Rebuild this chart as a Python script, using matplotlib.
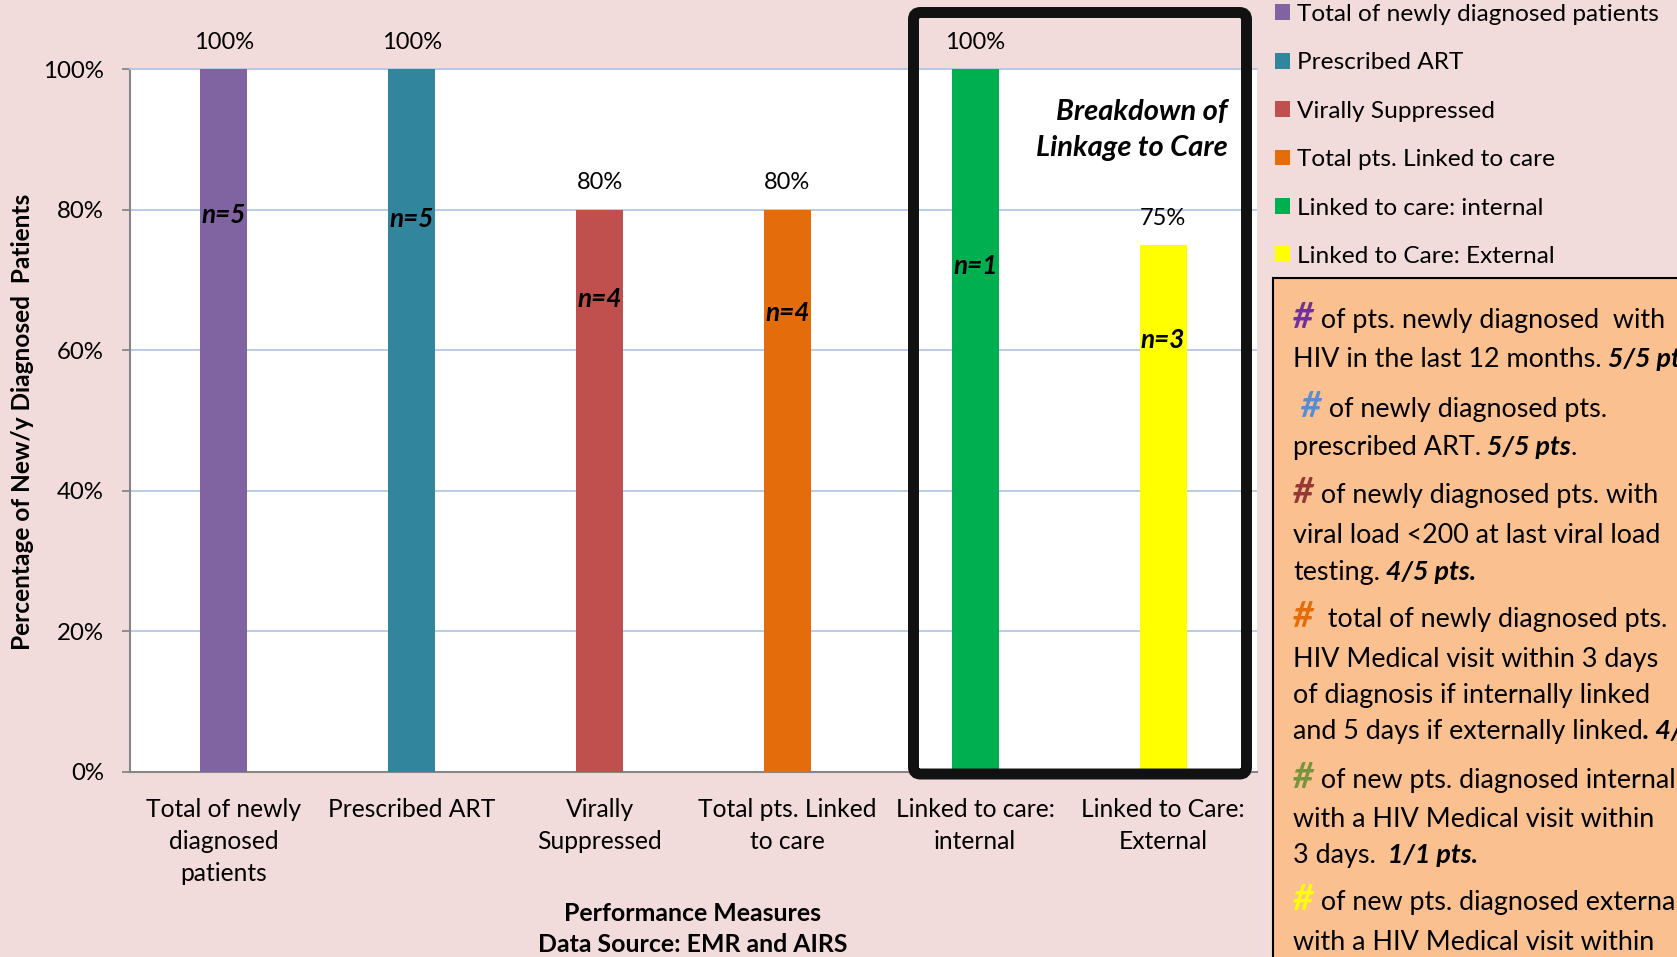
import numpy as np
import matplotlib
matplotlib.use("Agg")
import matplotlib.pyplot as plt
from matplotlib.patches import Rectangle, FancyBboxPatch, Patch
from matplotlib.ticker import PercentFormatter

# ---------------- data ----------------
categories = ["Total of newly diagnosed patients", "Prescribed ART", "Virally Suppressed",
              "Total pts. Linked to care", "Linked to care: internal", "Linked to Care: External"]
tick_labels = ["Total of newly\ndiagnosed\npatients", "Prescribed ART", "Virally\nSuppressed",
               "Total pts. Linked\nto care", "Linked to care:\ninternal", "Linked to Care:\nExternal"]
values = [1.00, 1.00, 0.80, 0.80, 1.00, 0.75]
n_counts = [5, 5, 4, 4, 1, 3]
bar_colors = ["#8064A2", "#31859C", "#C0504D", "#E46C0A", "#00B050", "#FFFF00"]
y_ticks = [0.0, 0.2, 0.4, 0.6, 0.8, 1.0]

# layout: vertical position (in data units) of the "n=" labels
n_label_y = [0.781, 0.775, 0.661, 0.641, 0.708, 0.603]

W, H, DPI = 1677, 957, 100
BG = "#F2DCDB"
plt.rcParams['font.family'] = ['Lato', 'DejaVu Sans']

fig = plt.figure(figsize=(W / DPI, H / DPI), dpi=DPI, facecolor=BG)
ax = fig.add_axes([130 / W, 1 - 772 / H, (1257 - 130) / W, (772 - 69) / H])
ax.set_facecolor("white")

x = np.arange(len(categories))
ax.bar(x, values, width=0.25, color=bar_colors, zorder=3)
ax.set_xlim(-0.5, len(categories) - 0.5)
ax.set_ylim(0, 1.0)
ax.set_yticks(y_ticks)
ax.yaxis.set_major_formatter(PercentFormatter(1.0, decimals=0))
ax.set_xticks(x)
ax.set_xticklabels(tick_labels, fontsize=17.7, linespacing=1.47, va='top')
ax.tick_params(axis='x', length=0, pad=19)
ax.tick_params(axis='y', labelsize=17.3, length=5.8, width=1.3, color="#868686", pad=13)
ax.yaxis.grid(True, color="#B4C7E7", lw=1.3, zorder=0)
ax.set_axisbelow(True)
ax.spines["right"].set_visible(False)
ax.spines["top"].set_color("#B4C7E7")
ax.spines["top"].set_linewidth(1.3)
for s in ["left", "bottom"]:
    ax.spines[s].set_color("#868686")
    ax.spines[s].set_linewidth(1.5)

for xi, v, n, ny in zip(x, values, n_counts, n_label_y):
    ax.annotate(f"{v:.0%}", (xi, v), xytext=(0, 14.5), textcoords="offset points",
                ha="center", va="baseline", fontsize=17, zorder=5)
    ax.text(xi, ny, f"n={n}", ha="center", va="baseline", fontsize=18.8,
            fontweight="bold", fontstyle="italic", zorder=5)

# "Breakdown" annotation
fig.text(1228 / W, 1 - 120 / H, "Breakdown of", ha="right", va="baseline",
         fontsize=21, fontweight="bold", fontstyle="italic")
fig.text(1228 / W, 1 - 156 / H, "Linkage to Care", ha="right", va="baseline",
         fontsize=21, fontweight="bold", fontstyle="italic")

# thick black rounded frame around the linkage breakdown bars
frame = FancyBboxPatch((913.5 / DPI, (H - 774) / DPI), (1246.5 - 913.5) / DPI, (774 - 12.5) / DPI,
                       boxstyle="round,pad=0,rounding_size=0.07", transform=fig.dpi_scale_trans,
                       fill=False, ec="#111111", lw=7.9, zorder=10)
fig.add_artist(frame)

# axis titles
fig.text(23 / W, 1 - 422 / H, "Percentage of New/y Diagnosed  Patients", rotation=90,
         ha="center", va="center", fontsize=17.6, fontweight="bold")
fig.text(693 / W, 1 - 921 / H, "Performance Measures", ha="center", va="baseline",
         fontsize=17.9, fontweight="bold")
fig.text(693 / W, 1 - 952 / H, "Data Source: EMR and AIRS", ha="center", va="baseline",
         fontsize=17.9, fontweight="bold")

# legend
handles = [Patch(facecolor=c, edgecolor="none") for c in bar_colors]
fig.legend(handles, categories, loc="upper left", bbox_to_anchor=(1275 / W, 1 - 4 / H),
           frameon=False, fontsize=17.6, handlelength=0.62, handleheight=0.62,
           handletextpad=0.28, labelspacing=1.12, borderpad=0, borderaxespad=0)

# orange description box
box = Rectangle((1273 / DPI, -0.5), 6.0, (H - 278) / DPI + 0.5, transform=fig.dpi_scale_trans,
                fc="#FAC090", ec="black", lw=1.5, zorder=1)
fig.add_artist(box)

FSB = 19.4
REG = dict(color="black", fontsize=FSB)
BI = dict(color="black", fontweight="bold", fontstyle="italic", fontsize=FSB)
def H_(c):
    return dict(color=c, fontweight="bold", fontstyle="italic", fontsize=26)

desc_lines = [
    (328, [("#", H_("#7030A0")), (" of pts. newly diagnosed  with", REG)]),
    (367, [("HIV in the last 12 months.", REG), (" 5/5 pts.", BI)]),
    (417, [(" #", H_("#558ED5")), (" of newly diagnosed pts.", REG)]),
    (455, [("prescribed ART.", REG), (" 5/5 pts", BI), (".", REG)]),
    (503, [("#", H_("#953735")), (" of newly diagnosed pts. with", REG)]),
    (543, [("viral load <200 at last viral load", REG)]),
    (580, [("testing.", REG), (" 4/5 pts.", BI)]),
    (627, [("#", H_("#E46C0A")), ("  total of newly diagnosed pts.", REG)]),
    (667, [("HIV Medical visit within 3 days", REG)]),
    (703, [("of diagnosis if internally linked", REG)]),
    (739, [("and 5 days if externally linked", REG), (". 4/5 pts.", BI)]),
    (788, [("#", H_("#77933C")), (" of new pts. diagnosed internally", REG)]),
    (827, [("with a HIV Medical visit within", REG)]),
    (863, [("3 days.", REG), ("  1/1 pts.", BI)]),
    (910, [("#", H_("#FFFF00")), (" of new pts. diagnosed externally", REG)]),
    (950, [("with a HIV Medical visit within", REG)]),
]

renderer = fig.canvas.get_renderer()
for base, runs in desc_lines:
    xpx = 1293
    for txt, style in runs:
        t = fig.text(xpx / W, 1 - base / H, txt, ha="left", va="baseline",
                     zorder=5, **style)
        xpx += t.get_window_extent(renderer).width

fig.savefig("out.png", dpi=DPI, facecolor=BG)
